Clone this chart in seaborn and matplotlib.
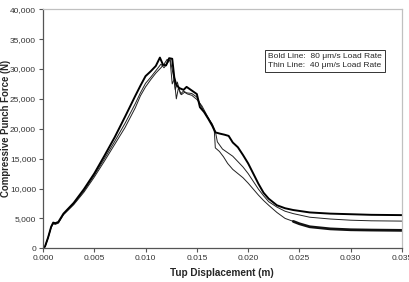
import matplotlib
matplotlib.use("Agg")
import matplotlib.pyplot as plt
import matplotlib.ticker as mticker
import numpy as np
import pandas as pd
import seaborn as sns

# ── Data (displacement in m, force in N) ─────────────────────────────────────
bold_x = [0, .0002, .0005, .0008, .0010, .0012, .0015, .002, .003, .004, .005,
          .006, .007, .0075, .008, .009, .0095, .0100, .0105, .0110, .0114,
          .0117, .0120, .0123, .0126, .0128, .0130, .0133, .0137, .0140, .0145,
          .0150, .0153, .0157, .0161, .0165, .0168, .0172, .0177, .0181, .0185,
          .0190, .0195, .0200, .0205, .0210, .0215, .0220, .0228, .0236, .0244,
          .0260, .0280, .0300, .0320, .0350]
bold_y = [0, 300, 1800, 3600, 4300, 4200, 4400, 5800, 7600, 9900, 12500,
          15500, 18600, 20300, 22000, 25500, 27200, 28800, 29600, 30500, 31900,
          30700, 30600, 31800, 31700, 28600, 27300, 26800, 26500, 27000, 26400,
          25800, 23600, 22800, 21700, 20500, 19400, 19200, 19000, 18800, 17700,
          16900, 15600, 14200, 12500, 10800, 9300, 8300, 7200, 6700, 6400,
          6000, 5800, 5700, 5600, 5550]

thin_a_x = [0, .0002, .0005, .0008, .0010, .0012, .0015, .002, .003, .004, .005,
            .006, .007, .008, .009, .0095, .010, .0105, .011, .0115, .0118,
            .0121, .0124, .0127, .0129, .0131, .0134, .0137, .014, .0145, .015,
            .0155, .016, .0165, .0168, .017, .0175, .018, .0185, .019, .0195,
            .020, .0205, .021, .0215, .022, .0228, .0236, .0244, .026, .028,
            .030, .032, .035]
thin_a_y = [0, 300, 1800, 3600, 4200, 4100, 4300, 5700, 7400, 9600, 12200,
            15000, 17900, 20900, 24200, 26000, 27600, 28600, 29700, 30800, 30200,
            30900, 31600, 29000, 26500, 27800, 25800, 26300, 26000, 25900, 25300,
            23500, 22000, 20800, 19600, 17800, 16600, 16000, 15400, 14500, 13600,
            12500, 11200, 9900, 8800, 7800, 6900, 6200, 5800, 5200, 4900,
            4700, 4600, 4550]

thin_b_x = [0, .0002, .0005, .0008, .0010, .0012, .0015, .002, .003, .004, .005,
            .006, .007, .008, .009, .0095, .010, .0105, .011, .0115, .0118,
            .0121, .0124, .0126, .0128, .0130, .0132, .0135, .0138, .0141, .0145,
            .015, .0155, .016, .0164, .0167, .0168, .0172, .0176, .018, .0185,
            .019, .0195, .020, .0205, .021, .0215, .022, .0228, .0236, .0244,
            .025, .026, .028, .030, .032, .035]
thin_b_y = [0, 250, 1700, 3500, 4100, 4000, 4200, 5600, 7300, 9400, 11900,
            14600, 17400, 20200, 23500, 25500, 27000, 28200, 29300, 30200, 30800,
            31600, 31300, 27500, 28300, 25000, 26800, 25700, 26100, 25800, 25600,
            24900, 23800, 22200, 21000, 19700, 16800, 16200, 15300, 14200, 13200,
            12500, 11800, 10900, 9900, 8900, 8000, 7200, 6000, 5000, 4500,
            4100, 3600, 3250, 3100, 3050, 3000]

x_ticks = [0.000, 0.005, 0.010, 0.015, 0.020, 0.025, 0.030, 0.035]
y_ticks = list(range(0, 40001, 5000))

sns.set_theme(style="white")
plt.rcParams["font.family"] = ["Liberation Sans", "DejaVu Sans"]

fig = plt.figure(figsize=(4.09, 2.82), dpi=100)
ax = fig.add_axes([0.105, 0.1195, 0.878, 0.848])

bold = pd.DataFrame({"x": bold_x, "y": bold_y})
thin_a = pd.DataFrame({"x": thin_a_x, "y": thin_a_y})
thin_b = pd.DataFrame({"x": thin_b_x, "y": thin_b_y})
noisy = thin_b[thin_b["x"] >= 0.0244]

sns.lineplot(data=thin_b, x="x", y="y", ax=ax, color="#222222", lw=0.7,
             sort=False)
sns.lineplot(data=noisy, x="x", y="y", ax=ax, color="#111111", lw=2.0,
             sort=False)
sns.lineplot(data=thin_a, x="x", y="y", ax=ax, color="#222222", lw=0.7,
             sort=False)
sns.lineplot(data=bold, x="x", y="y", ax=ax, color="black", lw=1.4,
             sort=False)

ax.set_xlim(0, 0.035)
ax.set_ylim(0, 40000)
ax.set_xticks(x_ticks)
ax.set_yticks(y_ticks)
ax.xaxis.set_major_formatter(mticker.FuncFormatter(lambda v, _: f"{v:.3f}"))
ax.yaxis.set_major_formatter(mticker.FuncFormatter(lambda v, _: f"{v:,.0f}"))
ax.tick_params(axis="both", which="major", labelsize=6, length=3, width=0.8,
               direction="out", color="#555555", pad=2, labelcolor="#333333")
ax.tick_params(bottom=True, left=True)

for side in ["left", "bottom"]:
    ax.spines[side].set_color("#555555")
    ax.spines[side].set_linewidth(0.9)
for side in ["top", "right"]:
    ax.spines[side].set_color("#c0c0c0")
    ax.spines[side].set_linewidth(0.9)

ax.set_xlabel("Tup Displacement (m)", fontsize=7.2, fontweight="bold")
ax.set_ylabel("Compressive Punch Force (N)", fontsize=6.9, fontweight="bold")
ax.xaxis.set_label_coords(0.498, -0.082)
ax.yaxis.set_label_coords(-0.089, 0.50)

ax.text(0.627, 0.784, "Bold Line:  80 μm/s Load Rate\nThin Line:  40 μm/s Load Rate",
        transform=ax.transAxes, fontsize=6, va="center", ha="left",
        linespacing=1.45,
        bbox=dict(boxstyle="square,pad=0.35", fc="white", ec="#333333", lw=0.7))

fig.savefig("out.png", dpi=100)
